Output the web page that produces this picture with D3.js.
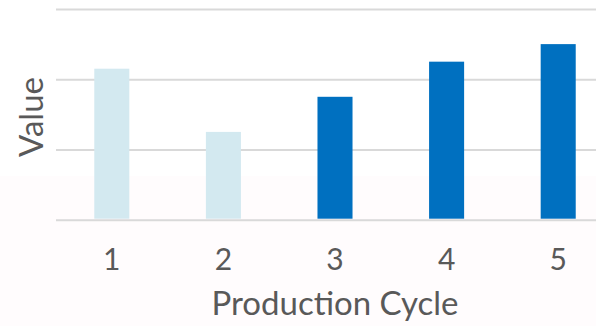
<!DOCTYPE html>
<html>
<head>
<meta charset="utf-8">
<script src="https://cdn.jsdelivr.net/npm/d3@7"></script>
<style>
  html, body { margin: 0; padding: 0; background: #ffffff; }
  svg { display: block; }
  text { font-family: Lato, "Open Sans", sans-serif; fill: #595959; }
</style>
</head>
<body>
<svg id="chart" width="596" height="326"></svg>
<script>
// Output per production cycle
const cycles = ["1", "2", "3", "4", "5"];
const values = [21.5, 12.5, 17.5, 22.5, 25];
// Early cycles are shown muted, later ones highlighted
const highlighted = [false, false, true, true, true];
const yTicks = [0, 10, 20, 30];

const W = 596, H = 326;
const plot = { left: 56, right: 614, top: 9, bottom: 219.7 };

const svg = d3.select("#chart");

// faint tint across the lower band of the canvas
svg.append("rect")
  .attr("x", 0).attr("y", 176)
  .attr("width", W).attr("height", H - 176)
  .attr("fill", "#fffcfd");

const x = d3.scaleBand()
  .domain(cycles)
  .range([plot.left, plot.right])
  .paddingInner(0.686)
  .paddingOuter(0.343);

const y = d3.scaleLinear()
  .domain([0, 30])
  .range([plot.bottom, plot.top]);

// horizontal gridlines
svg.append("g")
  .attr("transform", `translate(${plot.left},0)`)
  .call(d3.axisLeft(y).tickValues(yTicks).tickSize(-(plot.right - plot.left)).tickFormat(""))
  .call(g => g.select(".domain").remove())
  .call(g => g.selectAll(".tick line").attr("stroke", "#d9d9d9").attr("stroke-width", 2));

// bars
svg.append("g")
  .selectAll("rect")
  .data(cycles.map((c, i) => ({ c, v: values[i], hi: highlighted[i] })))
  .join("rect")
  .attr("x", d => x(d.c))
  .attr("y", d => y(d.v))
  .attr("width", x.bandwidth())
  .attr("height", d => y(0) - y(d.v) - 1)
  .attr("fill", d => d.hi ? "#0070c0" : "#d3e9f0");

// x tick labels
svg.append("g")
  .attr("transform", `translate(0,${plot.bottom})`)
  .call(d3.axisBottom(x).tickSize(0).tickPadding(0))
  .call(g => g.select(".domain").remove())
  .call(g => g.selectAll(".tick text")
    .attr("dy", null)
    .attr("y", 50)
    .style("font-size", "30px")
    .style("fill", "#595959"));

// axis titles
svg.append("text")
  .attr("x", (plot.left + plot.right) / 2)
  .attr("y", 315)
  .attr("text-anchor", "middle")
  .style("font-size", "33px")
  .text("Production Cycle");

svg.append("text")
  .attr("transform", "translate(43,117) rotate(-90)")
  .attr("text-anchor", "middle")
  .style("font-size", "33px")
  .text("Value");
</script>
</body>
</html>
